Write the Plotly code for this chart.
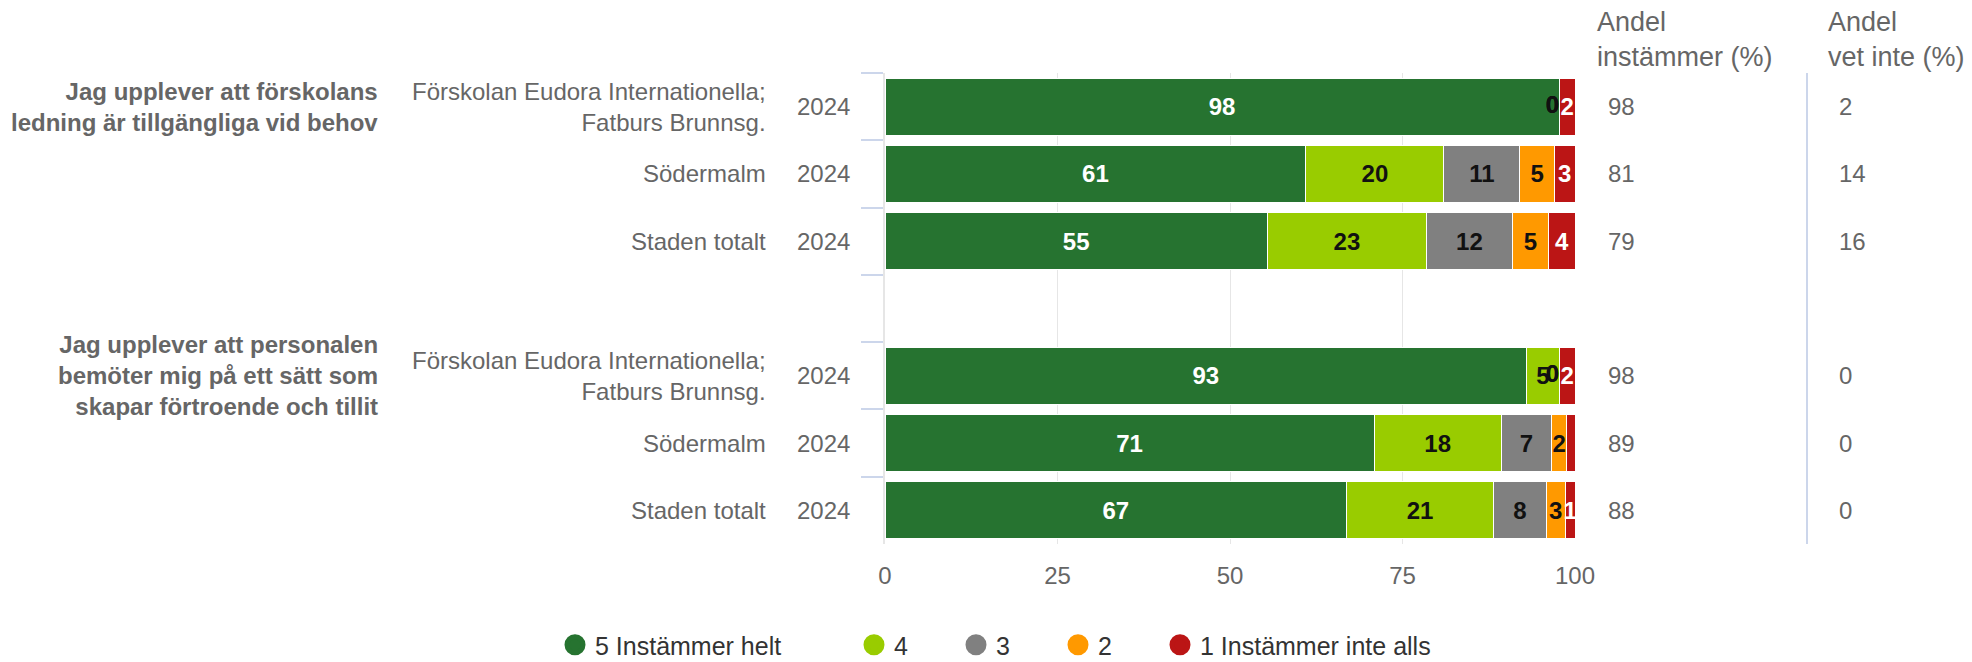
import plotly.graph_objects as go

# ---------------- data ----------------
questions = [
    "Jag upplever att förskolans<br>ledning är tillgängliga vid behov",
    "Jag upplever att personalen<br>bemöter mig på ett sätt som<br>skapar förtroende och tillit",
]
units = ["Förskolan Eudora Internationella;<br>Fatburs Brunnsg.", "Södermalm", "Staden totalt"]
year = "2024"

row_ids = ["q1_u1", "q1_u2", "q1_u3", "q2_u1", "q2_u2", "q2_u3"]
row_order = ["q1_u1", "q1_u2", "q1_u3", "gap", "q2_u1", "q2_u2", "q2_u3"]
row_units = [units[0], units[1], units[2], units[0], units[1], units[2]]
question_rows = ["q1_u1", "q2_u1"]

series_names = ["5 Instämmer helt", "4", "3", "2", "1 Instämmer inte alls"]
s5 = [97.7, 61.0, 55.4, 93.0, 70.9, 66.9]
s4 = [0.0, 20.0, 23.1, 4.7, 18.4, 21.3]
s3 = [0.0, 11.0, 12.4, 0.0, 7.3, 7.6]
s2 = [0.0, 5.0, 5.3, 0.0, 2.2, 2.8]
s1 = [2.3, 3.0, 3.8, 2.3, 1.2, 1.4]
series_values = [s5, s4, s3, s2, s1]

andel_instammer = [98, 81, 79, 98, 89, 88]
andel_vet_inte = [2, 14, 16, 0, 0, 0]

x_ticks = [0, 25, 50, 75, 100]

# ---------------- styles ----------------
colors = ["#267330", "#99cc00", "#808080", "#ff9900", "#bb1515"]
text_colors = ["#ffffff", "#111111", "#111111", "#111111", "#ffffff"]
FONT = "Liberation Sans, Arial, sans-serif"
GRAY = "#666666"

# page offset (body margin 8px) -> positions below are page pixels
OFF = 8
plot_l, plot_w, plot_t, plot_h = 885, 690, 73, 471
def px_x(p):
    return (p - plot_l) / plot_w
def px_y(p):
    return (plot_t + plot_h - p) / plot_h

fig = go.Figure()

for name, vals, col, tcol in zip(series_names, series_values, colors, text_colors):
    fig.add_trace(go.Bar(
        y=row_ids, x=vals, name=name, orientation="h",
        marker=dict(color=col, line=dict(color="#ffffff", width=1)),
        texttemplate="%{x:.0f}", textposition="inside", insidetextanchor="middle",
        constraintext="none", textangle=0,
        insidetextfont=dict(family=FONT, size=24, color=tcol, weight="bold"),
        showlegend=False, hoverinfo="skip",
    ))

# labels for zero-size segments (drawn at the segment's stacked position)
zx, zy, zt = [], [], []
for si, vals in enumerate(series_values):
    for ri, v in enumerate(vals):
        if v == 0:
            base = sum(series_values[k][ri] for k in range(si))
            zx.append(base)
            zy.append(row_ids[ri])
            zt.append("0")
fig.add_trace(go.Scatter(
    x=zx, y=zy, text=zt, mode="text", textposition="middle left",
    textfont=dict(family=FONT, size=24, color="#111111", weight="bold"),
    showlegend=False, hoverinfo="skip", cliponaxis=False,
))

# legend entries (circles), each in its own legend for exact spacing
legend_px = [555, 854, 956, 1058, 1160]
for i, (name, col) in enumerate(zip(series_names, colors)):
    lg = "legend" if i == 0 else f"legend{i+1}"
    fig.add_trace(go.Scatter(
        x=[None], y=[None], mode="markers", name=name,
        marker=dict(color=col, size=22, symbol="circle", line=dict(color=col, width=5)),
        legend=lg, showlegend=True, hoverinfo="skip",
    ))

legend_layouts = {}
for i, px in enumerate(legend_px):
    lg = "legend" if i == 0 else f"legend{i+1}"
    legend_layouts[lg] = dict(
        orientation="h", x=px_x(px), xanchor="left",
        y=px_y(645), yanchor="middle", bgcolor="rgba(0,0,0,0)",
        font=dict(family=FONT, size=25, color="#333333"),
        itemclick=False, itemdoubleclick=False,
    )

annotations = []
for q, r in zip(questions, question_rows):
    annotations.append(dict(
        xref="paper", yref="y", x=px_x(380), y=r, xanchor="right", yanchor="middle",
        text=f"<b>{q}</b>", showarrow=False, align="right",
        font=dict(family=FONT, size=24, color=GRAY),
    ))
for r, u, a, v in zip(row_ids, row_units, andel_instammer, andel_vet_inte):
    annotations.append(dict(
        xref="paper", yref="y", x=px_x(768), y=r, xanchor="right", yanchor="middle",
        text=u, showarrow=False, align="right", font=dict(family=FONT, size=24, color=GRAY),
    ))
    annotations.append(dict(
        xref="paper", yref="y", x=px_x(852), y=r, xanchor="right", yanchor="middle",
        text=year, showarrow=False, font=dict(family=FONT, size=24, color=GRAY),
    ))
    annotations.append(dict(
        xref="paper", yref="y", x=px_x(1606), y=r, xanchor="left", yanchor="middle",
        text=str(a), showarrow=False, font=dict(family=FONT, size=24, color=GRAY),
    ))
    annotations.append(dict(
        xref="paper", yref="y", x=px_x(1837), y=r, xanchor="left", yanchor="middle",
        text=str(v), showarrow=False, font=dict(family=FONT, size=24, color=GRAY),
    ))
annotations.append(dict(
    xref="paper", yref="paper", x=px_x(1595), y=px_y(39), xanchor="left", yanchor="middle",
    text="Andel<br>instämmer (%)", showarrow=False, align="left",
    font=dict(family=FONT, size=27, color=GRAY),
))
annotations.append(dict(
    xref="paper", yref="paper", x=px_x(1826), y=px_y(39), xanchor="left", yanchor="middle",
    text="Andel<br>vet inte (%)", showarrow=False, align="left",
    font=dict(family=FONT, size=27, color=GRAY),
))

shapes = [dict(
    type="line", xref="paper", yref="paper", x0=px_x(1807), x1=px_x(1807),
    y0=0, y1=1, line=dict(color="#ccd6eb", width=2),
)]

fig_w, fig_h = 1972 - OFF, 662 - OFF
fig.update_layout(
    width=fig_w, height=fig_h,
    margin=dict(l=plot_l - OFF, r=fig_w - (plot_l - OFF + plot_w),
                t=plot_t - OFF, b=fig_h - (plot_t - OFF + plot_h), autoexpand=False),
    paper_bgcolor="#ffffff", plot_bgcolor="#ffffff",
    barmode="stack", bargap=0.15,
    uniformtext=dict(minsize=24, mode="show"),
    font=dict(family=FONT, size=24, color=GRAY),
    annotations=annotations, shapes=shapes,
    xaxis=dict(
        range=[0, 100], tickvals=x_ticks, showgrid=True, gridcolor="#e6e6e6", gridwidth=1,
        zeroline=False, showline=False, ticks="outside", ticklen=10, tickcolor="rgba(0,0,0,0)",
        tickfont=dict(family=FONT, size=24, color=GRAY),
    ),
    yaxis=dict(
        type="category", categoryorder="array", categoryarray=row_order, range=[6.5, -0.5],
        showticklabels=False, showgrid=False, zeroline=False,
        ticks="outside", tickson="boundaries", ticklen=22, tickwidth=2, tickcolor="#ccd6eb",
        showline=True, linecolor="#e6e6e6", linewidth=2,
    ),
    **legend_layouts,
)

fig.write_html("out.html")
